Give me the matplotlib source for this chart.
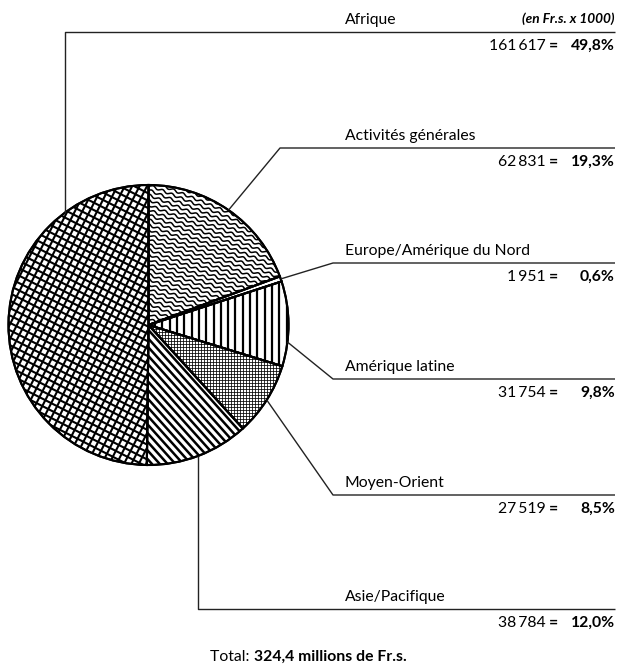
import numpy as np
import matplotlib
matplotlib.use("Agg")
import matplotlib.pyplot as plt
from matplotlib.patches import Wedge

# ---------------- data ----------------
regions = ["Activités générales", "Europe/Amérique du Nord", "Amérique latine",
           "Moyen-Orient", "Asie/Pacifique", "Afrique"]
amounts = [62831, 1951, 31754, 27519, 38784, 161617]
amount_labels = ["62\u2009831", "1\u2009951", "31\u2009754", "27\u2009519", "38\u2009784", "161\u2009617"]
percent_labels = ["19,3%", "0,6%", "9,8%", "8,5%", "12,0%", "49,8%"]
unit_note = "(en Fr.s. x 1000)"
total_prefix = "Total: "
total_value = "324,4 millions de Fr.s."

# ---------------- style / layout ----------------
W, H = 622, 666
FONT = ["Lato", "DejaVu Sans"]
plt.rcParams["font.family"] = FONT

# fill patterns: list of (direction angle, spacing, linewidth, wave amplitude, wave length)
patterns = [
    [(-22, 4.6, 1.1, 1.1, 10.0)],                      # Activités générales (wavy)
    [],                                                 # Europe/Amérique du Nord (blank)
    [(90, 7.3, 1.6, 0, 0)],                             # Amérique latine (vertical)
    [(0, 3.0, 0.55, 0, 0), (90, 3.0, 0.55, 0, 0)],      # Moyen-Orient (fine grid)
    [(-48, 5.8, 1.8, 0, 0)],                            # Asie/Pacifique (diagonal)
    [(-27, 6.6, 1.5, 0, 0), (63, 6.6, 1.5, 0, 0)],      # Afrique (crosshatch)
]

cx, cy, R = 148.5, H - 325, 140
anchor_override = {5: 126.7, 2: -7.0}
line_y = [148, 263, 379, 495, 609, 32]
elbow_x = [280, 333, 333, 333, None, None]  # None => vertical leader
line_right = 615
label_x = 345
num_right = 546
eq_x = 554
fs = 11.3

fig = plt.figure(figsize=(W / 100, H / 100), dpi=100)
ax = fig.add_axes([0, 0, 1, 1])

wedges, _ = ax.pie(amounts, startangle=90, counterclock=False, center=(cx, cy), radius=R,
                   frame=True,
                   wedgeprops=dict(facecolor="white", edgecolor="black", linewidth=1.5))
ax.set_xlim(0, W)
ax.set_ylim(0, H)
ax.set_aspect("equal")
ax.axis("off")


def fill_pattern(wedge, ang, spacing, lw, amp, wl):
    a = np.radians(ang)
    d = np.array([np.cos(a), np.sin(a)])
    n = np.array([-np.sin(a), np.cos(a)])
    t = np.linspace(-R - 20, R + 20, 900)
    for off in np.arange(-R - 20, R + 20, spacing):
        wave = amp * np.sin(t * 2 * np.pi / wl) if amp else 0
        x = cx + t * d[0] + (off + wave) * n[0]
        y = cy + t * d[1] + (off + wave) * n[1]
        ln, = ax.plot(x, y, color="black", lw=lw, solid_capstyle="butt", zorder=2)
        ln.set_clip_path(wedge)


for w, pats in zip(wedges, patterns):
    w.set_zorder(1)
    for p in pats:
        fill_pattern(w, *p)

# outlines on top of the fill patterns
for w in wedges:
    ax.add_patch(Wedge(w.center, w.r, w.theta1, w.theta2, facecolor="none",
                       edgecolor="black", linewidth=1.5, zorder=3))

# leader lines and labels
for i, w in enumerate(wedges):
    ang = anchor_override.get(i, (w.theta1 + w.theta2) / 2)
    ax_ = cx + R * np.cos(np.radians(ang))
    ay_ = cy + R * np.sin(np.radians(ang))
    ly = H - line_y[i]
    if elbow_x[i] is None:
        pts_x = [ax_, ax_, line_right]
    else:
        pts_x = [ax_, elbow_x[i], line_right]
    pts_y = [ay_, ly, ly]
    ax.plot(pts_x, pts_y, color="#222222", lw=1.0, solid_capstyle="butt", zorder=4)
    ax.text(label_x, ly + 12, regions[i], fontsize=fs, ha="left", va="center")
    vy = ly - 14
    ax.text(num_right, vy, amount_labels[i], fontsize=fs, ha="right", va="center")
    ax.text(eq_x, vy, "=", fontsize=fs, ha="center", va="center", fontweight="bold")
    ax.text(line_right, vy, percent_labels[i], fontsize=fs, ha="right", va="center",
            fontweight="bold")

ax.text(line_right, H - 19, unit_note, fontsize=9.8, ha="right", va="center",
        style="italic", fontweight="bold")

t = ax.text(210, H - 657, total_prefix, fontsize=fs, ha="left", va="center")
fig.canvas.draw()
bb = t.get_window_extent()
x2 = ax.transData.inverted().transform((bb.x1, bb.y0))[0]
ax.text(x2, H - 657, total_value, fontsize=fs, ha="left", va="center", fontweight="bold")

fig.savefig("out.png", dpi=100)
